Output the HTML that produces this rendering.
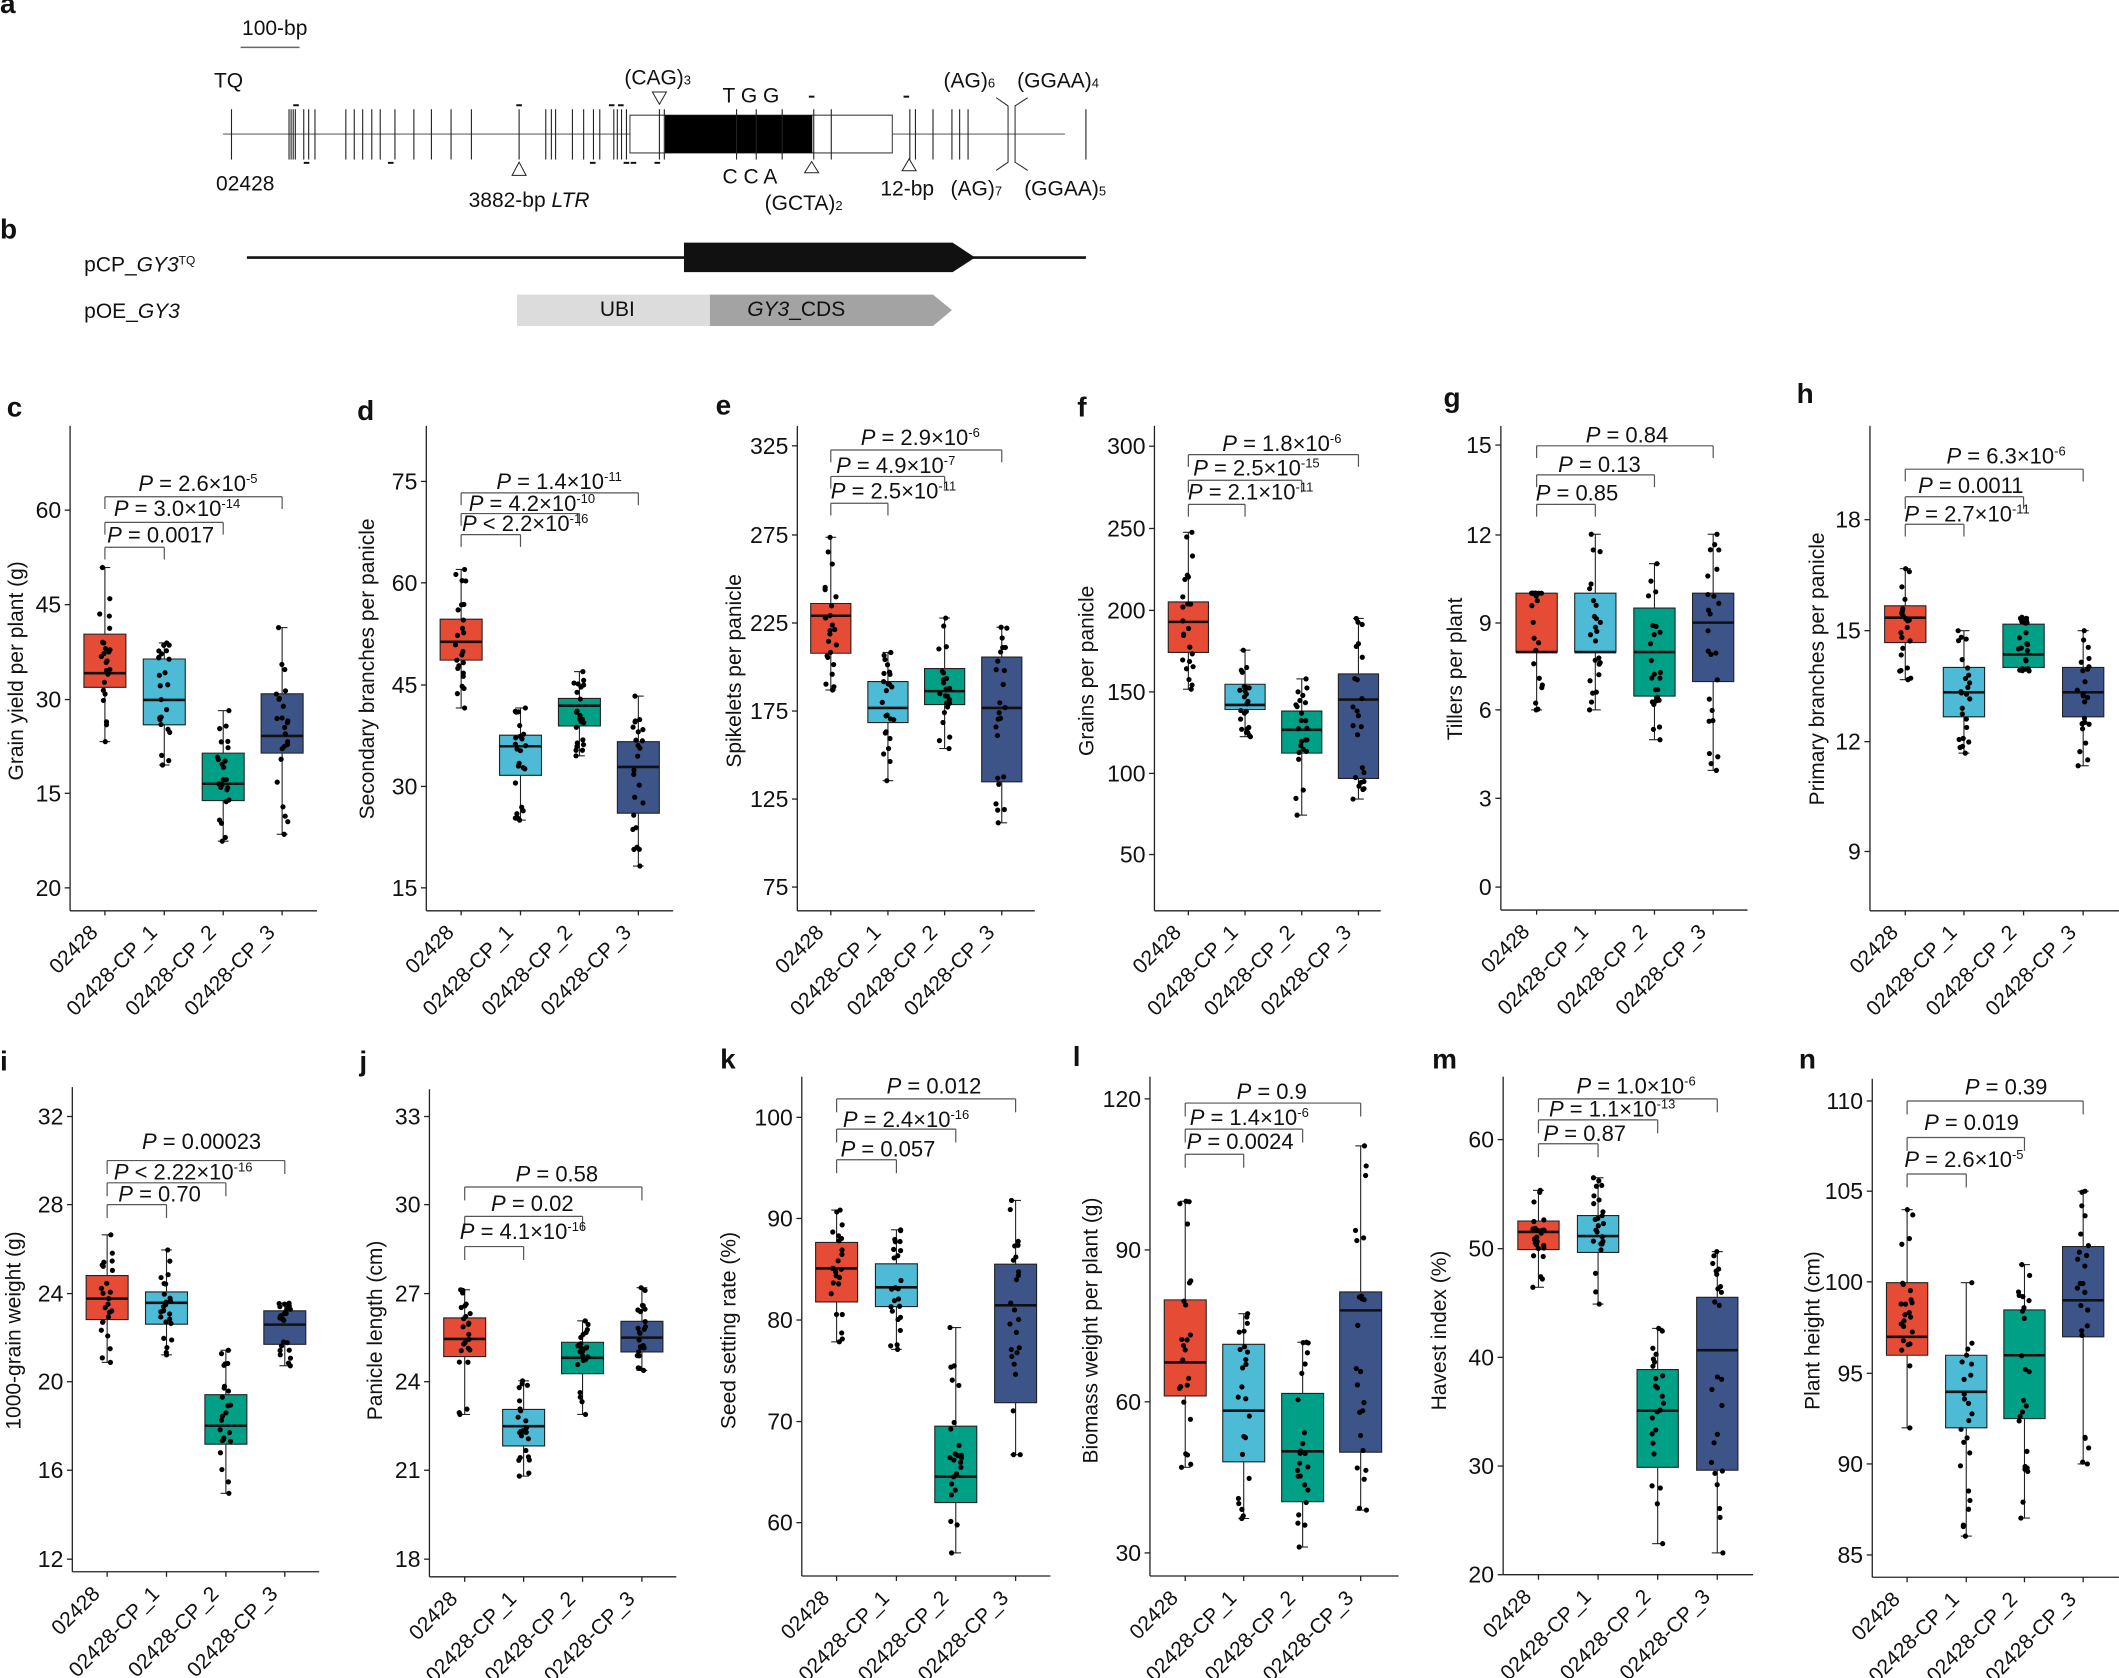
<!DOCTYPE html>
<html><head><meta charset="utf-8">
<style>
html,body{margin:0;padding:0;background:#fff;}
svg{display:block;font-family:"Liberation Sans",Arial,sans-serif;}
text{transform:scale(var(--sx),var(--sy));fill:#111;}
text.v{transform:scale(var(--sx),var(--sy)) rotate(-90deg);}
text.d{transform:scale(var(--sx),var(--sy)) translate(7px,-7px) rotate(-45deg);}
.tk{font-size:23px;text-anchor:end;dominant-baseline:central;}
.ti{font-size:21px;text-anchor:middle;}
.p{font-size:22px;}
.ct{font-size:21px;text-anchor:end;}
.L{font-size:28px;font-weight:bold;}
.a{font-size:21px;}
</style></head>
<body>
<svg id="S" width="2119" height="1678" viewBox="0 0 2119 1678" xmlns="http://www.w3.org/2000/svg">
<rect width="2119" height="1678" fill="#fff"/>

<!-- Panels a, b -->
<g id="GA" transform="translate(0,0) scale(0.7015,0.331)" style="--sx:1.4255;--sy:3.021">
<g transform="translate(0,40)"><text class="L">a</text></g>
<g transform="translate(0,720)"><text class="L">b</text></g>
<g transform="translate(345,105)"><text class="a">100-bp</text></g>
<g transform="translate(305,265)"><text class="a">TQ</text></g>
<g transform="translate(308,575)"><text class="a">02428</text></g>
<g transform="translate(668,625)"><text class="a">3882-bp <tspan font-style="italic">LTR</tspan></text></g>
<g transform="translate(890,255)"><text class="a">(CAG)<tspan font-size="13">3</tspan></text></g>
<g transform="translate(1030,310)"><text class="a">T G G</text></g>
<g transform="translate(1030,555)"><text class="a">C C A</text></g>
<g transform="translate(1090,635)"><text class="a">(GCTA)<tspan font-size="13">2</tspan></text></g>
<g transform="translate(1255,590)"><text class="a">12-bp</text></g>
<g transform="translate(1345,265)"><text class="a">(AG)<tspan font-size="13">6</tspan></text></g>
<g transform="translate(1450,265)"><text class="a">(GGAA)<tspan font-size="13">4</tspan></text></g>
<g transform="translate(1355,590)"><text class="a">(AG)<tspan font-size="13">7</tspan></text></g>
<g transform="translate(1460,590)"><text class="a">(GGAA)<tspan font-size="13">5</tspan></text></g>
<g transform="translate(120,820)"><text class="a">pCP_<tspan font-style="italic">GY3</tspan><tspan font-size="12" dy="-7">TQ</tspan></text></g>
<g transform="translate(120,960)"><text class="a">pOE_<tspan font-style="italic">GY3</tspan></text></g>
<g transform="translate(880,955)"><text class="a" text-anchor="middle">UBI</text></g>
<g transform="translate(1135,955)"><text class="a" text-anchor="middle"><tspan font-style="italic">GY3</tspan>_CDS</text></g>
</g>

<!-- Row 1 -->
<g id="G0" transform="translate(0,380) scale(0.4464,0.3827)" style="--sx:2.2401;--sy:2.6130">
<g transform="translate(15,95)"><text class="L">c</text></g>
<g transform="translate(800,105)"><text class="L">d</text></g>
<g transform="translate(137,340)"><text class="tk">60</text></g>
<g transform="translate(137,587)"><text class="tk">45</text></g>
<g transform="translate(137,835)"><text class="tk">30</text></g>
<g transform="translate(137,1080)"><text class="tk">15</text></g>
<g transform="translate(137,1327)"><text class="tk">20</text></g>
<g transform="translate(935,265)"><text class="tk">75</text></g>
<g transform="translate(935,530)"><text class="tk">60</text></g>
<g transform="translate(935,797)"><text class="tk">45</text></g>
<g transform="translate(935,1062)"><text class="tk">30</text></g>
<g transform="translate(935,1327)"><text class="tk">15</text></g>
<g transform="translate(52,760)"><text class="ti v">Grain yield per plant (g)</text></g>
<g transform="translate(838,755)"><text class="ti v">Secondary branches per panicle</text></g>
<g transform="translate(240,425)"><text class="p"><tspan font-style="italic">P</tspan> = 0.0017</text></g>
<g transform="translate(255,355)"><text class="p"><tspan font-style="italic">P</tspan> = 3.0×10<tspan dy="-8" font-size="13">-14</tspan></text></g>
<g transform="translate(310,290)"><text class="p"><tspan font-style="italic">P</tspan> = 2.6×10<tspan dy="-8" font-size="13">-5</tspan></text></g>
<g transform="translate(1035,395)"><text class="p"><tspan font-style="italic">P</tspan> &lt; 2.2×10<tspan dy="-8" font-size="13">-16</tspan></text></g>
<g transform="translate(1050,342)"><text class="p"><tspan font-style="italic">P</tspan> = 4.2×10<tspan dy="-8" font-size="13">-10</tspan></text></g>
<g transform="translate(1112,285)"><text class="p"><tspan font-style="italic">P</tspan> = 1.4×10<tspan dy="-8" font-size="13">-11</tspan></text></g>
<g transform="translate(206,1465)"><text class="ct d">02428</text></g>
<g transform="translate(339,1465)"><text class="ct d">02428-CP_1</text></g>
<g transform="translate(471,1465)"><text class="ct d">02428-CP_2</text></g>
<g transform="translate(603,1465)"><text class="ct d">02428-CP_3</text></g>
<g transform="translate(1004,1465)"><text class="ct d">02428</text></g>
<g transform="translate(1137,1465)"><text class="ct d">02428-CP_1</text></g>
<g transform="translate(1269,1465)"><text class="ct d">02428-CP_2</text></g>
<g transform="translate(1401,1465)"><text class="ct d">02428-CP_3</text></g>
</g>

<g id="G1" transform="translate(700,380) scale(0.4464,0.3827)" style="--sx:2.2401;--sy:2.6130">
<g transform="translate(35,90)"><text class="L">e</text></g>
<g transform="translate(845,95)"><text class="L">f</text></g>
<g transform="translate(198,172)"><text class="tk">325</text></g>
<g transform="translate(198,405)"><text class="tk">275</text></g>
<g transform="translate(198,635)"><text class="tk">225</text></g>
<g transform="translate(198,865)"><text class="tk">175</text></g>
<g transform="translate(198,1095)"><text class="tk">125</text></g>
<g transform="translate(198,1325)"><text class="tk">75</text></g>
<g transform="translate(998,173)"><text class="tk">300</text></g>
<g transform="translate(998,388)"><text class="tk">250</text></g>
<g transform="translate(998,602)"><text class="tk">200</text></g>
<g transform="translate(998,815)"><text class="tk">150</text></g>
<g transform="translate(998,1028)"><text class="tk">100</text></g>
<g transform="translate(998,1240)"><text class="tk">50</text></g>
<g transform="translate(92,760)"><text class="ti v">Spikelets per panicle</text></g>
<g transform="translate(882,760)"><text class="ti v">Grains per panicle</text></g>
<g transform="translate(293,310)"><text class="p"><tspan font-style="italic">P</tspan> = 2.5×10<tspan dy="-8" font-size="13">-11</tspan></text></g>
<g transform="translate(305,243)"><text class="p"><tspan font-style="italic">P</tspan> = 4.9×10<tspan dy="-8" font-size="13">-7</tspan></text></g>
<g transform="translate(360,170)"><text class="p"><tspan font-style="italic">P</tspan> = 2.9×10<tspan dy="-8" font-size="13">-6</tspan></text></g>
<g transform="translate(1093,312)"><text class="p"><tspan font-style="italic">P</tspan> = 2.1×10<tspan dy="-8" font-size="13">-11</tspan></text></g>
<g transform="translate(1105,250)"><text class="p"><tspan font-style="italic">P</tspan> = 2.5×10<tspan dy="-8" font-size="13">-15</tspan></text></g>
<g transform="translate(1170,185)"><text class="p"><tspan font-style="italic">P</tspan> = 1.8×10<tspan dy="-8" font-size="13">-6</tspan></text></g>
<g transform="translate(264,1465)"><text class="ct d">02428</text></g>
<g transform="translate(392,1465)"><text class="ct d">02428-CP_1</text></g>
<g transform="translate(519,1465)"><text class="ct d">02428-CP_2</text></g>
<g transform="translate(647,1465)"><text class="ct d">02428-CP_3</text></g>
<g transform="translate(1065,1465)"><text class="ct d">02428</text></g>
<g transform="translate(1192,1465)"><text class="ct d">02428-CP_1</text></g>
<g transform="translate(1319,1465)"><text class="ct d">02428-CP_2</text></g>
<g transform="translate(1446,1465)"><text class="ct d">02428-CP_3</text></g>
</g>

<g id="G2" transform="translate(1400,380) scale(0.4585,0.3827)" style="--sx:2.1810;--sy:2.6130">
<g transform="translate(95,70)"><text class="L">g</text></g>
<g transform="translate(865,60)"><text class="L">h</text></g>
<g transform="translate(200,170)"><text class="tk">15</text></g>
<g transform="translate(200,405)"><text class="tk">12</text></g>
<g transform="translate(200,635)"><text class="tk">9</text></g>
<g transform="translate(200,862)"><text class="tk">6</text></g>
<g transform="translate(200,1093)"><text class="tk">3</text></g>
<g transform="translate(200,1325)"><text class="tk">0</text></g>
<g transform="translate(1005,365)"><text class="tk">18</text></g>
<g transform="translate(1005,655)"><text class="tk">15</text></g>
<g transform="translate(1005,945)"><text class="tk">12</text></g>
<g transform="translate(1005,1232)"><text class="tk">9</text></g>
<g transform="translate(135,755)"><text class="ti v">Tillers per plant</text></g>
<g transform="translate(925,755)"><text class="ti v">Primary branches per panicle</text></g>
<g transform="translate(296,315)"><text class="p"><tspan font-style="italic">P</tspan> = 0.85</text></g>
<g transform="translate(345,240)"><text class="p"><tspan font-style="italic">P</tspan> = 0.13</text></g>
<g transform="translate(405,163)"><text class="p"><tspan font-style="italic">P</tspan> = 0.84</text></g>
<g transform="translate(1100,370)"><text class="p"><tspan font-style="italic">P</tspan> = 2.7×10<tspan dy="-8" font-size="13">-11</tspan></text></g>
<g transform="translate(1130,295)"><text class="p"><tspan font-style="italic">P</tspan> = 0.0011</text></g>
<g transform="translate(1192,218)"><text class="p"><tspan font-style="italic">P</tspan> = 6.3×10<tspan dy="-8" font-size="13">-6</tspan></text></g>
<g transform="translate(270,1463)"><text class="ct d">02428</text></g>
<g transform="translate(398,1463)"><text class="ct d">02428-CP_1</text></g>
<g transform="translate(527,1463)"><text class="ct d">02428-CP_2</text></g>
<g transform="translate(655,1463)"><text class="ct d">02428-CP_3</text></g>
<g transform="translate(1074,1465)"><text class="ct d">02428</text></g>
<g transform="translate(1202,1465)"><text class="ct d">02428-CP_1</text></g>
<g transform="translate(1332,1465)"><text class="ct d">02428-CP_2</text></g>
<g transform="translate(1462,1465)"><text class="ct d">02428-CP_3</text></g>
</g>

<!-- Row 2 -->
<g id="G3" transform="translate(0,1020) scale(0.4464,0.4196)" style="--sx:2.2401;--sy:2.3832">
<g transform="translate(0,120)"><text class="L">i</text></g>
<g transform="translate(805,120)"><text class="L">j</text></g>
<g transform="translate(142,230)"><text class="tk">32</text></g>
<g transform="translate(142,440)"><text class="tk">28</text></g>
<g transform="translate(142,652)"><text class="tk">24</text></g>
<g transform="translate(142,862)"><text class="tk">20</text></g>
<g transform="translate(142,1073)"><text class="tk">16</text></g>
<g transform="translate(142,1285)"><text class="tk">12</text></g>
<g transform="translate(942,230)"><text class="tk">33</text></g>
<g transform="translate(942,440)"><text class="tk">30</text></g>
<g transform="translate(942,652)"><text class="tk">27</text></g>
<g transform="translate(942,862)"><text class="tk">24</text></g>
<g transform="translate(942,1073)"><text class="tk">21</text></g>
<g transform="translate(942,1285)"><text class="tk">18</text></g>
<g transform="translate(46,740)"><text class="ti v">1000-grain weight (g)</text></g>
<g transform="translate(856,740)"><text class="ti v">Panicle length (cm)</text></g>
<g transform="translate(265,432)"><text class="p"><tspan font-style="italic">P</tspan> = 0.70</text></g>
<g transform="translate(255,380)"><text class="p"><tspan font-style="italic">P</tspan> &lt; 2.22×10<tspan dy="-8" font-size="13">-16</tspan></text></g>
<g transform="translate(318,308)"><text class="p"><tspan font-style="italic">P</tspan> = 0.00023</text></g>
<g transform="translate(1030,522)"><text class="p"><tspan font-style="italic">P</tspan> = 4.1×10<tspan dy="-8" font-size="13">-16</tspan></text></g>
<g transform="translate(1100,455)"><text class="p"><tspan font-style="italic">P</tspan> = 0.02</text></g>
<g transform="translate(1155,385)"><text class="p"><tspan font-style="italic">P</tspan> = 0.58</text></g>
<g transform="translate(211,1387)"><text class="ct d">02428</text></g>
<g transform="translate(344,1387)"><text class="ct d">02428-CP_1</text></g>
<g transform="translate(477,1387)"><text class="ct d">02428-CP_2</text></g>
<g transform="translate(609,1387)"><text class="ct d">02428-CP_3</text></g>
<g transform="translate(1012,1399)"><text class="ct d">02428</text></g>
<g transform="translate(1144,1399)"><text class="ct d">02428-CP_1</text></g>
<g transform="translate(1276,1399)"><text class="ct d">02428-CP_2</text></g>
<g transform="translate(1409,1399)"><text class="ct d">02428-CP_3</text></g>
</g>

<g id="G4" transform="translate(700,1020) scale(0.4464,0.4196)" style="--sx:2.2401;--sy:2.3832">
<g transform="translate(45,115)"><text class="L">k</text></g>
<g transform="translate(835,110)"><text class="L">l</text></g>
<g transform="translate(208,232)"><text class="tk">100</text></g>
<g transform="translate(208,473)"><text class="tk">90</text></g>
<g transform="translate(208,715)"><text class="tk">80</text></g>
<g transform="translate(208,957)"><text class="tk">70</text></g>
<g transform="translate(208,1198)"><text class="tk">60</text></g>
<g transform="translate(988,188)"><text class="tk">120</text></g>
<g transform="translate(988,548)"><text class="tk">90</text></g>
<g transform="translate(988,910)"><text class="tk">60</text></g>
<g transform="translate(988,1270)"><text class="tk">30</text></g>
<g transform="translate(80,740)"><text class="ti v">Seed setting rate (%)</text></g>
<g transform="translate(890,740)"><text class="ti v">Biomass weight per plant (g)</text></g>
<g transform="translate(315,325)"><text class="p"><tspan font-style="italic">P</tspan> = 0.057</text></g>
<g transform="translate(320,255)"><text class="p"><tspan font-style="italic">P</tspan> = 2.4×10<tspan dy="-8" font-size="13">-16</tspan></text></g>
<g transform="translate(418,175)"><text class="p"><tspan font-style="italic">P</tspan> = 0.012</text></g>
<g transform="translate(1090,308)"><text class="p"><tspan font-style="italic">P</tspan> = 0.0024</text></g>
<g transform="translate(1097,250)"><text class="p"><tspan font-style="italic">P</tspan> = 1.4×10<tspan dy="-8" font-size="13">-6</tspan></text></g>
<g transform="translate(1202,188)"><text class="p"><tspan font-style="italic">P</tspan> = 0.9</text></g>
<g transform="translate(277,1397)"><text class="ct d">02428</text></g>
<g transform="translate(411,1397)"><text class="ct d">02428-CP_1</text></g>
<g transform="translate(544,1397)"><text class="ct d">02428-CP_2</text></g>
<g transform="translate(678,1397)"><text class="ct d">02428-CP_3</text></g>
<g transform="translate(1058,1397)"><text class="ct d">02428</text></g>
<g transform="translate(1189,1397)"><text class="ct d">02428-CP_1</text></g>
<g transform="translate(1321,1397)"><text class="ct d">02428-CP_2</text></g>
<g transform="translate(1451,1397)"><text class="ct d">02428-CP_3</text></g>
</g>

<g id="G5" transform="translate(1400,1020) scale(0.4585,0.4196)" style="--sx:2.1810;--sy:2.3832">
<g transform="translate(70,115)"><text class="L">m</text></g>
<g transform="translate(870,115)"><text class="L">n</text></g>
<g transform="translate(205,285)"><text class="tk">60</text></g>
<g transform="translate(205,545)"><text class="tk">50</text></g>
<g transform="translate(205,804)"><text class="tk">40</text></g>
<g transform="translate(205,1063)"><text class="tk">30</text></g>
<g transform="translate(205,1322)"><text class="tk">20</text></g>
<g transform="translate(1010,193)"><text class="tk">110</text></g>
<g transform="translate(1010,408)"><text class="tk">105</text></g>
<g transform="translate(1010,624)"><text class="tk">100</text></g>
<g transform="translate(1010,842)"><text class="tk">95</text></g>
<g transform="translate(1010,1058)"><text class="tk">90</text></g>
<g transform="translate(1010,1275)"><text class="tk">85</text></g>
<g transform="translate(100,740)"><text class="ti v">Havest index (%)</text></g>
<g transform="translate(915,740)"><text class="ti v">Plant height (cm)</text></g>
<g transform="translate(313,288)"><text class="p"><tspan font-style="italic">P</tspan> = 0.87</text></g>
<g transform="translate(325,230)"><text class="p"><tspan font-style="italic">P</tspan> = 1.1×10<tspan dy="-8" font-size="13">-13</tspan></text></g>
<g transform="translate(385,175)"><text class="p"><tspan font-style="italic">P</tspan> = 1.0×10<tspan dy="-8" font-size="13">-6</tspan></text></g>
<g transform="translate(1100,350)"><text class="p"><tspan font-style="italic">P</tspan> = 2.6×10<tspan dy="-8" font-size="13">-5</tspan></text></g>
<g transform="translate(1143,262)"><text class="p"><tspan font-style="italic">P</tspan> = 0.019</text></g>
<g transform="translate(1232,178)"><text class="p"><tspan font-style="italic">P</tspan> = 0.39</text></g>
<g transform="translate(274,1394)"><text class="ct d">02428</text></g>
<g transform="translate(404,1394)"><text class="ct d">02428-CP_1</text></g>
<g transform="translate(534,1394)"><text class="ct d">02428-CP_2</text></g>
<g transform="translate(664,1394)"><text class="ct d">02428-CP_3</text></g>
<g transform="translate(1078,1400)"><text class="ct d">02428</text></g>
<g transform="translate(1207,1400)"><text class="ct d">02428-CP_1</text></g>
<g transform="translate(1334,1400)"><text class="ct d">02428-CP_2</text></g>
<g transform="translate(1462,1400)"><text class="ct d">02428-CP_3</text></g>
</g>
</svg>
<script>
(function(){
var NS="http://www.w3.org/2000/svg";
function el(t,a,p){var e=document.createElementNS(NS,t);for(var k in a)e.setAttribute(k,a[k]);p.appendChild(e);return e;}
function ln(p,x1,y1,x2,y2,c,w){return el('line',{x1:x1,y1:y1,x2:x2,y2:y2,stroke:c||'#222','stroke-width':w||1.3,'vector-effect':'non-scaling-stroke'},p);}
var seed=7;function rnd(){seed=(seed*16807)%2147483647;return seed/2147483647;}
var COL=['#E64B35','#4DBBD5','#00A087','#3C5488'];
var P=[
{g:'G0',ax:157,top:120,bot:1387,right:710,cats:[235,368,500,632],bw:47,ticks:[340,587,835,1080,1327],boxes:[[664,766,803,490,945],[729,836,901,687,1006],[975,1055,1099,864,1205],[820,930,975,647,1187]],br:[[437,1],[372,2],[305,3]]},
{g:'G0',ax:955,top:120,bot:1387,right:1508,cats:[1033,1166,1298,1430],bw:47,ticks:[265,530,797,1062,1327],boxes:[[625,684,732,495,857],[928,957,1033,857,1150],[832,851,904,762,982],[945,1011,1132,826,1270]],br:[[404,1],[349,2],[295,3]]},
{g:'G1',ax:218,top:120,bot:1387,right:750,cats:[293,421,548,676],bw:45,ticks:[172,405,635,865,1095,1325],boxes:[[584,616,714,411,810],[788,857,895,712,1047],[754,813,848,622,963],[724,857,1050,646,1157]],br:[[322,1],[252,2],[183,3]]},
{g:'G1',ax:1018,top:120,bot:1387,right:1525,cats:[1094,1221,1348,1475],bw:45,ticks:[173,388,602,815,1028,1240],boxes:[[580,632,712,398,808],[795,849,861,706,932],[865,914,975,781,1137],[768,835,1041,623,1095]],br:[[325,1],[262,2],[195,3]]},
{g:'G2',ax:220,top:120,bot:1385,right:758,cats:[298,426,555,683],bw:45,ticks:[170,405,635,862,1093,1325],boxes:[[557,711,711,557,862],[557,711,711,403,862],[596,711,826,480,940],[557,634,788,403,1020]],br:[[325,1],[248,2],[172,3]]},
{g:'G2',ax:1025,top:120,bot:1387,right:1568,cats:[1102,1230,1360,1490],bw:45,ticks:[365,655,945,1232],boxes:[[590,621,686,493,783],[751,816,880,655,975],[638,717,751,620,760],[751,816,880,655,1008]],br:[[377,1],[305,2],[233,3]]},
{g:'G3',ax:162,top:160,bot:1315,right:715,cats:[240,373,506,638],bw:47,ticks:[230,440,652,862,1073,1285],boxes:[[609,664,714,512,816],[648,674,725,548,798],[893,967,1011,787,1128],[693,726,773,675,824]],br:[[440,1],[388,2],[335,3]]},
{g:'G3',ax:962,top:165,bot:1327,right:1515,cats:[1041,1173,1305,1438],bw:47,ticks:[230,440,652,862,1073,1285],boxes:[[710,760,802,643,940],[928,968,1015,860,1087],[768,805,843,717,940],[718,757,791,638,835]],br:[[540,1],[468,2],[398,3]]},
{g:'G4',ax:228,top:135,bot:1325,right:785,cats:[306,440,573,707],bw:47,ticks:[232,473,715,957,1198],boxes:[[530,592,672,453,767],[581,637,683,500,785],[968,1088,1150,733,1270],[582,680,912,430,1036]],br:[[333,1],[260,2],[188,3]]},
{g:'G4',ax:1008,top:135,bot:1325,right:1565,cats:[1087,1218,1350,1480],bw:47,ticks:[188,548,910,1270],boxes:[[667,816,896,432,1066],[773,931,1053,700,1188],[890,1028,1148,768,1256],[648,692,1030,300,1168]],br:[[320,1],[260,2],[198,3]]},
{g:'G5',ax:225,top:135,bot:1322,right:770,cats:[302,432,562,692],bw:45,ticks:[285,545,804,1063,1322],boxes:[[479,505,547,406,637],[466,515,554,376,677],[833,931,1066,735,1248],[661,787,1073,552,1270]],br:[[295,1],[238,2],[188,3]]},
{g:'G5',ax:1030,top:140,bot:1328,right:1568,cats:[1106,1235,1362,1490],bw:45,ticks:[193,408,624,842,1058,1275],boxes:[[626,755,799,452,972],[799,886,972,626,1230],[691,799,950,583,1187],[540,668,755,408,1058]],br:[[367,1],[280,2],[193,3]]}
];
P.forEach(function(p){
 var G=document.getElementById(p.g);
 var g=document.createElementNS(NS,'g');G.insertBefore(g,G.firstChild);
 var sx=G.id=='G2'||G.id=='G5'?0.4585:0.4464;var sy=(G.id<'G3')?0.3827:0.4196;
 ln(g,p.ax,p.top,p.ax,p.bot);ln(g,p.ax,p.bot,p.right,p.bot);
 p.ticks.forEach(function(t){ln(g,p.ax-12,t,p.ax,t);});
 p.cats.forEach(function(c){ln(g,c,p.bot,c,p.bot+12);});
 p.br.forEach(function(b){var x0=p.cats[0],x1=p.cats[b[1]];ln(g,x0,b[0],x1,b[0],'#555',1.2);ln(g,x0,b[0],x0,b[0]+32,'#555',1.2);ln(g,x1,b[0],x1,b[0]+32,'#555',1.2);});
 p.boxes.forEach(function(b,i){
  var c=p.cats[i],w=p.bw;
  ln(g,c,b[3],c,b[0],'#222',1.1);ln(g,c,b[2],c,b[4],'#222',1.1);
  ln(g,c-12,b[3],c+12,b[3],'#222',1.1);ln(g,c-12,b[4],c+12,b[4],'#222',1.1);
  el('rect',{x:c-w,y:b[0],width:2*w,height:Math.max(b[2]-b[0],1),fill:COL[i],stroke:'#222','stroke-width':1.1,'vector-effect':'non-scaling-stroke'},g);
  ln(g,c-w,b[1],c+w,b[1],'#111',2.6);
  for(var k=0;k<24;k++){var u=rnd(),y;
   if(u<0.55)y=b[0]+rnd()*(b[2]-b[0]);else if(u<0.78)y=b[3]+rnd()*(b[0]-b[3]);else y=b[2]+rnd()*(b[4]-b[2]);
   if(k==0)y=b[3];if(k==1)y=b[4];
   el('ellipse',{cx:c+(rnd()-0.5)*26,cy:y,rx:2.6/sx,ry:2.6/sy,fill:'#000'},g);}
 });
});
var A=document.getElementById('GA');var g=document.createElementNS(NS,'g');A.insertBefore(g,A.firstChild);
ln(g,343,143,427,143,'#666',1.5);
ln(g,318,405,898,405,'#666',1.2);ln(g,1272,405,1518,405,'#666',1.2);
el('rect',{x:898,y:348,width:374,height:114,fill:'#fff',stroke:'#444','stroke-width':1.1,'vector-effect':'non-scaling-stroke'},g);
el('rect',{x:948,y:348,width:210,height:114,fill:'#000'},g);
[330,412,415,418,421,433,440,449,493,505,517,530,542,563,590,615,643,672,740,778,786,792,816,832,846,855,875,880,886,893,940,947,1050,1078,1115,1160,1185,1297,1305,1330,1357,1368,1380,1548].forEach(function(x){ln(g,x,330,x,482,'#222',1.1);});
[422,740,872,885,1157,1292].forEach(function(x){ln(g,x-4,x>1100?292:318,x+4,x>1100?292:318,'#111',2);});
[437,557,845,893,903,937].forEach(function(x){ln(g,x-4,492,x+4,492,'#111',2);});
function tri(x,y1,y2){el('polygon',{points:(x-10)+','+y2+' '+(x+10)+','+y2+' '+x+','+y1,fill:'#fff',stroke:'#222','stroke-width':1,'vector-effect':'non-scaling-stroke'},g);}
tri(940,315,278);tri(740,490,530);tri(1157,488,522);tri(1296,480,516);
el('path',{d:'M1420 295 L1437 320 L1437 490 L1420 515 M1465 295 L1447 320 L1447 490 L1465 515',fill:'none',stroke:'#222','stroke-width':1,'vector-effect':'non-scaling-stroke'},g);
ln(g,352,778,1548,778,'#111',2.6);
el('polygon',{points:'975,733 1358,733 1390,778 1358,822 975,822',fill:'#111'},g);
el('rect',{x:737,y:890,width:275,height:95,fill:'#dcdcdc'},g);
el('polygon',{points:'1012,890 1330,890 1357,937 1330,985 1012,985',fill:'#a3a3a3'},g);
})();
</script>
</body></html>
